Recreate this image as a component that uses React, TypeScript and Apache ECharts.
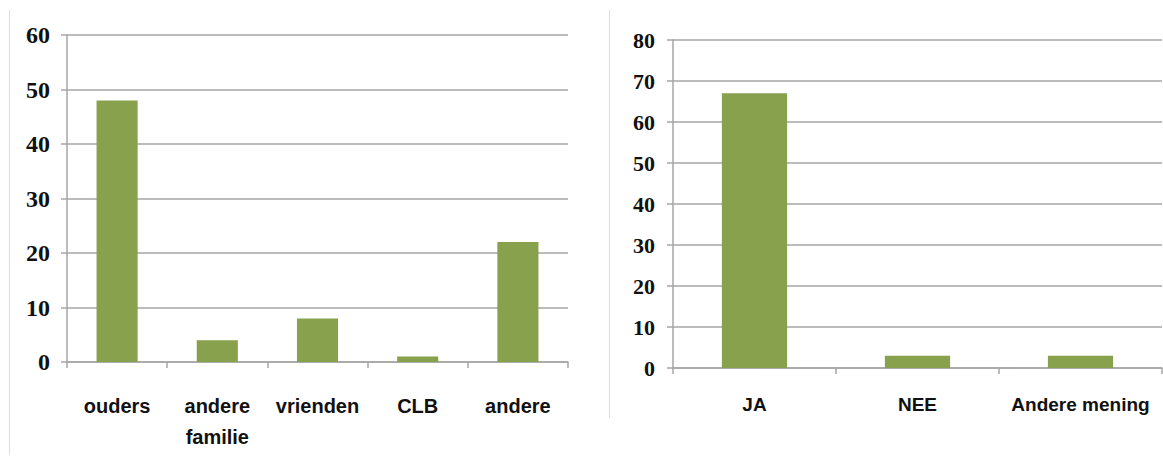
import React, { useEffect, useRef } from "react";
import * as echarts from "echarts";

const leftCategories = ["ouders", "andere\nfamilie", "vrienden", "CLB", "andere"];
const leftValues = [48, 4, 8, 1, 22];
const rightCategories = ["JA", "NEE", "Andere mening"];
const rightValues = [67, 3, 3];

const BAR = "#87a14c";
const GRID = "#a6a6a6";
const XFONT = "'Liberation Sans', Arial, sans-serif";
const YFONT = "'Liberation Serif', 'Times New Roman', serif";

export default function App() {
  const ref = useRef<HTMLDivElement>(null);
  useEffect(() => {
    document.body.style.margin = "0";
    const chart = echarts.init(ref.current!, null, { renderer: "svg" });
    const xAxisCommon = {
      type: "category" as const,
      axisLine: { show: true, lineStyle: { color: GRID, width: 1.5 } },
      axisTick: { show: true, length: 6, lineStyle: { color: GRID, width: 1.5 } },
      splitLine: { show: false },
    };
    const yAxisCommon = {
      type: "value" as const,
      min: 0,
      interval: 10,
      axisLine: { show: true, lineStyle: { color: GRID, width: 1.5 } },
      axisTick: { show: true, length: 6, lineStyle: { color: GRID, width: 1.5 } },
      splitLine: { show: true, lineStyle: { color: GRID, width: 1.5 } },
    };
    chart.setOption({
      animation: false,
      backgroundColor: "#ffffff",
      grid: [
        { left: 67, right: 595, top: 35, bottom: 97 },
        { left: 673, right: 1, top: 40, bottom: 91 },
      ],
      xAxis: [
        {
          ...xAxisCommon,
          gridIndex: 0,
          data: leftCategories,
          axisLabel: {
            margin: 28,
            fontFamily: XFONT,
            fontWeight: "bold",
            fontSize: 20,
            color: "#111",
            lineHeight: 31,
            interval: 0,
          },
        },
        {
          ...xAxisCommon,
          gridIndex: 1,
          data: rightCategories,
          axisLabel: {
            margin: 27,
            fontFamily: XFONT,
            fontWeight: "bold",
            fontSize: 19,
            color: "#111",
            interval: 0,
          },
        },
      ],
      yAxis: [
        {
          ...yAxisCommon,
          gridIndex: 0,
          max: 60,
          axisLabel: {
            margin: 17,
            fontFamily: YFONT,
            fontWeight: "bold",
            fontSize: 24,
            color: "#111",
            padding: [4, 0, 0, 0],
          },
        },
        {
          ...yAxisCommon,
          gridIndex: 1,
          max: 80,
          axisLabel: {
            margin: 18,
            fontFamily: YFONT,
            fontWeight: "bold",
            fontSize: 22,
            color: "#111",
            padding: [4, 0, 0, 0],
          },
        },
      ],
      series: [
        {
          type: "bar",
          xAxisIndex: 0,
          yAxisIndex: 0,
          data: leftValues,
          barWidth: "41%",
          itemStyle: { color: BAR },
        },
        {
          type: "bar",
          xAxisIndex: 1,
          yAxisIndex: 1,
          data: rightValues,
          barWidth: "40%",
          itemStyle: { color: BAR },
        },
      ],
      graphic: [
        {
          type: "line",
          shape: { x1: 9.5, y1: 10, x2: 9.5, y2: 455 },
          style: { stroke: "#dcdcdc", lineWidth: 1 },
        },
        {
          type: "line",
          shape: { x1: 609.5, y1: 10, x2: 609.5, y2: 418 },
          style: { stroke: "#dcdcdc", lineWidth: 1 },
        },
      ],
    });
    return () => chart.dispose();
  }, []);
  return <div ref={ref} style={{ width: 1163, height: 459 }} />;
}
